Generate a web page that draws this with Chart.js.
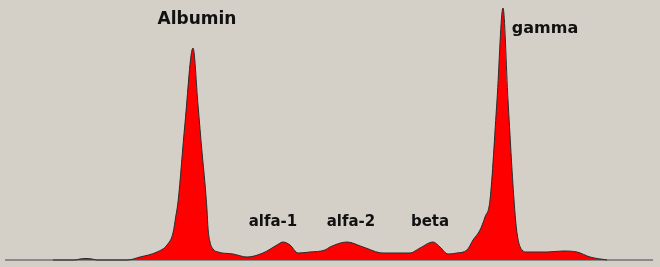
<!DOCTYPE html>
<html lang="en">
<head>
    <meta charset="UTF-8">
    <title>Electrophoresis</title>
    <style>
        body { margin: 0; background: #d4d0c8; }
        #grafico { display: block; }
    </style>
</head>
<body>
    <canvas id="grafico" width="660" height="267"></canvas>
    <script src="https://cdn.jsdelivr.net/npm/chart.js"></script>
    <script>
        // densitometry scan: mobility position vs. absorbance height
        const posicao = [53, 75, 80, 86, 92, 97, 127, 140, 157, 167, 173, 176, 178, 185, 193, 198, 202, 205, 207, 208, 210, 213, 218,
                         233, 247, 263, 277, 283, 290, 298, 310, 325, 330, 347, 363, 383, 410, 420, 433, 440, 448, 457,
                         467, 473, 480, 485, 490, 497, 503, 508, 514, 517, 522, 527, 547, 563, 577, 590, 607]
        const altura  = [0, 0, 1, 1.5, 1, 0, 0, 3, 8, 15, 27, 45, 58, 137, 212, 155, 108, 76, 50, 32, 18, 11, 8,
                         6, 3, 7, 15, 18, 15, 7, 8, 10, 13, 18, 13, 7, 7, 12, 18, 13, 6, 7,
                         10, 20, 30, 43, 60, 160, 252, 160, 60, 27, 10, 8, 8, 9, 8, 3, 0]

        const linhaBase = [5, 653]

        const fracoes   = ['Albumin', 'alfa-1', 'alfa-2', 'beta', 'gamma']
        const fracoesX  = [197, 273, 351, 430, 545]
        const fracoesY  = [240, 38, 38, 38, 231]
        const fracoesPx = [17, 15, 15, 15, 16]

        const rotulos = {
            id: 'rotulos',
            afterDatasetsDraw(chart) {
                const c = chart.ctx
                const sx = chart.scales.x
                const sy = chart.scales.y
                c.save()
                c.fillStyle = '#111'
                c.textAlign = 'center'
                c.textBaseline = 'middle'
                fracoes.forEach((nome, i) => {
                    c.font = `bold ${fracoesPx[i]}px "DejaVu Sans"`
                    c.fillText(nome, sx.getPixelForValue(fracoesX[i]), sy.getPixelForValue(fracoesY[i]))
                })
                c.restore()
            }
        }

        const ctx = document.getElementById('grafico')

        const grafico = new Chart(ctx, {
            type: 'line',
            data: {
                datasets: [{
                    data: posicao.map((x, i) => ({ x: x, y: altura[i] })),
                    borderColor: '#2a2a2a',
                    borderWidth: 1,
                    backgroundColor: '#ff0000',
                    fill: 'origin',
                    pointRadius: 0,
                    cubicInterpolationMode: 'monotone',
                    clip: false,
                    order: 0
                }, {
                    data: linhaBase.map(x => ({ x: x, y: 0 })),
                    borderColor: '#8a8a8a',
                    borderWidth: 2,
                    pointRadius: 0,
                    fill: false,
                    clip: false,
                    order: 1
                }]
            },
            options: {
                responsive: false,
                animation: false,
                layout: { padding: { left: 0, right: 0, top: 0, bottom: 7 } },
                plugins: { legend: { display: false }, tooltip: { enabled: false } },
                scales: {
                    x: { type: 'linear', min: 0, max: 660, display: false },
                    y: { min: 0, max: 260, display: false }
                }
            },
            plugins: [rotulos]
        })
    </script>
</body>
</html>
